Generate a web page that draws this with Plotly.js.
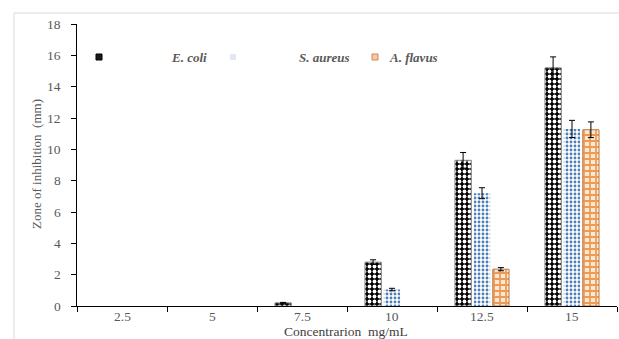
<!DOCTYPE html>
<html><head><meta charset="utf-8">
<script src="https://cdn.plot.ly/plotly-3.0.1.min.js"></script>
<style>html,body{margin:0;padding:0;background:#fff;}#chart{width:619px;height:339px;}</style>
</head><body><div id="chart"></div>
<script>
const categories = ['2.5', '5', '7.5', '10', '12.5', '15'];
const seriesNames = ['E. coli', 'S. aureus', 'A. flavus'];
const ecoliValues = [0, 0, 0.2, 2.8, 9.3, 15.2];
const ecoliErrors = [0, 0, 0.03, 0.15, 0.5, 0.7];
const saureusValues = [0, 0, 0, 1.05, 7.2, 11.3];
const saureusErrors = [0, 0, 0, 0.08, 0.35, 0.55];
const aflavusValues = [0, 0, 0, 0, 2.35, 11.25];
const aflavusErrors = [0, 0, 0, 0, 0.1, 0.5];
const yTicks = [0, 2, 4, 6, 8, 10, 12, 14, 16, 18];
const xTitle = 'Concentrarion  mg/mL';
const yTitle = 'Zone of inhibition  (mm)';

const W = 619, H = 339;
const M = {l: 77, r: 2, t: 24, b: 33};
const pw = W - M.l - M.r, ph = H - M.t - M.b;
const px = x => (x - M.l) / pw;
const py = y => (H - M.b - y) / ph;

// zero-height bars are not drawn in the reference
const nz = arr => arr.map(v => (v === 0 ? null : v));

const serif = 'Liberation Serif';
const grey = '#595959';
const err = arr => ({type: 'data', array: arr, visible: true, color: '#000', thickness: 1, width: 3});

const traces = [
  {type: 'bar', name: seriesNames[0], x: categories, y: nz(ecoliValues), error_y: err(ecoliErrors), showlegend: false,
   marker: {color: '#000', line: {color: '#7f7f7f', width: 1},
     pattern: {shape: '.', bgcolor: '#000', fgcolor: '#fff', size: 5, solidity: 0.45, fillmode: 'replace'}}},
  {type: 'bar', name: seriesNames[1], x: categories, y: nz(saureusValues), error_y: err(saureusErrors), showlegend: false,
   marker: {color: '#fff', line: {color: 'rgba(255,255,255,0)', width: 0},
     pattern: {shape: '.', bgcolor: '#ffffff', fgcolor: '#4f7fb8', size: 4, solidity: 0.4, fillmode: 'replace'}}},
  {type: 'bar', name: seriesNames[2], x: categories, y: nz(aflavusValues), error_y: err(aflavusErrors), showlegend: false,
   marker: {color: '#f4a868', line: {color: '#b87a4a', width: 1},
     pattern: {shape: '+', bgcolor: '#fde8d4', fgcolor: '#ee9a55', size: 6, solidity: 0.5, fillmode: 'replace'}}}
];

// legend drawn manually (swatch + label) to match the reference's spacing
const annFont = {family: serif, size: 13, color: grey, weight: 'bold', style: 'italic'};
const ann = (x, i) => ({xref: 'paper', yref: 'paper', x: px(x), y: py(58), xanchor: 'center', yanchor: 'middle',
  text: seriesNames[i], showarrow: false, font: annFont});
const swatch = (x, fill, line) => ({type: 'rect', xref: 'paper', yref: 'paper', x0: px(x), x1: px(x + 6),
  y0: py(60), y1: py(54), fillcolor: fill, line: {color: line, width: 1}});

// tick labels placed as in the reference (category axis positions are serial indices)
const yTickAnns = yTicks.map(v => ({xref: 'paper', yref: 'y', x: px(63), y: v, xanchor: 'right', yanchor: 'middle',
  text: String(v), showarrow: false, font: {family: serif, size: 13.5, color: grey}}));
const xTickAnns = categories.map((c, i) => ({xref: 'x', yref: 'paper', x: i, y: py(316), xanchor: 'center', yanchor: 'middle',
  text: c, showarrow: false, font: {family: serif, size: 13.5, color: grey}}));

const layout = {
  width: W, height: H, margin: M,
  paper_bgcolor: '#fff', plot_bgcolor: '#fff',
  barmode: 'group', bargap: 0.37, bargroupgap: 0.14,
  font: {family: serif, size: 14, color: grey},
  showlegend: false,
  xaxis: {type: 'category', range: [-0.5, categories.length - 0.5], autorange: false,
    showline: true, linecolor: '#000', linewidth: 1, ticks: 'outside', tickson: 'boundaries',
    ticklen: 5, tickcolor: '#000', showgrid: false, zeroline: false, showticklabels: false},
  yaxis: {range: [0, 18], tickvals: yTicks, showticklabels: false, showline: true, linecolor: '#000', linewidth: 1,
    ticks: 'outside', ticklen: 5, tickcolor: '#000', showgrid: false, zeroline: false},
  annotations: [
    ann(189, 0), ann(324, 1), ann(413, 2),
    ...yTickAnns,
    ...xTickAnns,
    {xref: 'paper', yref: 'paper', x: px(346), y: py(331), xanchor: 'center', yanchor: 'middle',
     text: xTitle, showarrow: false, font: {family: serif, size: 13.5, color: '#404040'}},
    {xref: 'paper', yref: 'paper', x: px(36), y: py(164), xanchor: 'center', yanchor: 'middle', textangle: -90,
     text: yTitle, showarrow: false, font: {family: serif, size: 13, color: grey}}
  ],
  shapes: [
    {type: 'rect', xref: 'paper', yref: 'paper', x0: px(14), x1: px(640), y0: py(360), y1: py(13),
     line: {color: '#d9d9d9', width: 1}, fillcolor: 'rgba(0,0,0,0)', layer: 'below'},
    swatch(96, '#1a1a1a', '#000'),
    swatch(230, '#dfe8f3', 'rgba(0,0,0,0)'),
    swatch(372, '#f8c9a0', '#c8875a')
  ]
};

Plotly.newPlot('chart', traces, layout, {displayModeBar: false, staticPlot: true});
</script></body></html>
